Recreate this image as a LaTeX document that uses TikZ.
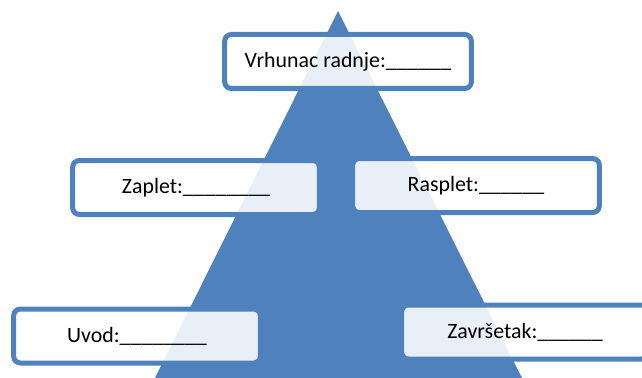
\documentclass[tikz,border=0pt]{standalone}
\usepackage{fontspec}
\setmainfont{Carlito}
\definecolor{triblue}{HTML}{4F81BD}

\begin{document}
\begin{tikzpicture}[x=.75pt,y=-.75pt,line width=3.75pt,
    box/.style={draw=triblue,fill=white,fill opacity=.88,text opacity=1,
      rounded corners=5pt,minimum width=185pt,minimum height=40.5pt,
      font=\fontsize{16.4}{19}\selectfont}]

   \useasboundingbox (0,0) rectangle (642,378);
   \clip (0,0) rectangle (642,378);

     \path[fill=triblue] (338,11) -- (522,378) -- (155,378) -- cycle;

     \path (348,61.5) node[box] (vrhunac)  {Vrhunac radnje:\_\_\_\_\_\_};
      \path (196,187.5) node[box] (zaplet)  {Zaplet:\_\_\_\_\_\_\_\_};
      \path (476,185.5) node[box] (rasplet)  {Rasplet:\_\_\_\_\_\_};
      \path (137,336) node[box] (uvod)  {Uvod:\_\_\_\_\_\_\_\_};
      \path (525,332) node[box] (zavrsetak)  {Završetak:\_\_\_\_\_\_};

   \end{tikzpicture}
\end{document}
